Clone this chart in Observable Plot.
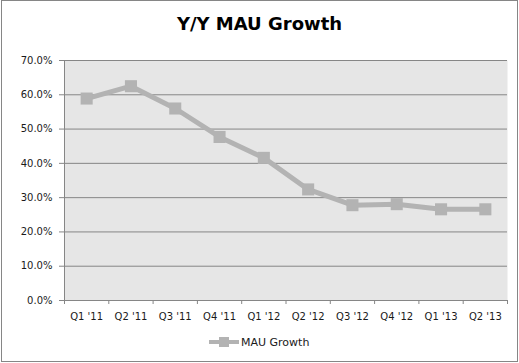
<!DOCTYPE html>
<html>
<head>
<meta charset="utf-8">
<script src="https://cdn.jsdelivr.net/npm/d3@7"></script>
<script src="https://cdn.jsdelivr.net/npm/@observablehq/plot@0.6"></script>
<style>
  html, body { margin: 0; padding: 0; background: #fff; }
  #wrap { position: relative; width: 519px; height: 363px; overflow: hidden; font-family: "DejaVu Sans", sans-serif; }
  #border { position: absolute; left: 1px; top: 0px; width: 515px; height: 360px; border: 1px solid #868686; pointer-events: none; }
  #title { position: absolute; left: 0; width: 519px; top: 13px; text-align: center; font-weight: bold; font-size: 18px; color: #000; line-height: 22px; }
  #legend { position: absolute; left: 209px; top: 334px; height: 16px; display: flex; align-items: center; font-size: 11px; color: #1a1a1a; }
  #chart { position: absolute; left: 0; top: 0; }
</style>
</head>
<body>
<div id="wrap">
  <div id="chart"></div>
  <div id="title">Y/Y MAU Growth</div>
  <div id="legend">
    <svg width="31" height="16"><line x1="0" x2="30" y1="8" y2="8" stroke="#b3b3b3" stroke-width="4"/><rect x="10" y="3" width="10" height="10" fill="#b3b3b3"/></svg>
    <span style="margin-left:1px">MAU Growth</span>
  </div>
  <div id="border"></div>
</div>
<script>
const quarters = ["Q1 '11", "Q2 '11", "Q3 '11", "Q4 '11", "Q1 '12", "Q2 '12", "Q3 '12", "Q4 '12", "Q1 '13", "Q2 '13"];
const growth = [0.589, 0.625, 0.560, 0.477, 0.416, 0.324, 0.278, 0.281, 0.266, 0.266];
const yTicks = [0, 0.1, 0.2, 0.3, 0.4, 0.5, 0.6, 0.7];

const data = quarters.map((q, i) => ({q, i: i + 0.5, v: growth[i]}));
const gridColor = "#868686";

const chart = Plot.plot({
  width: 519,
  height: 363,
  marginTop: 60,
  marginBottom: 63,
  marginLeft: 64,
  marginRight: 12,
  style: {fontFamily: "DejaVu Sans, sans-serif", fontSize: "10px", color: "#1a1a1a", background: "transparent"},
  x: {type: "linear", domain: [0, quarters.length]},
  y: {domain: [0, 0.7]},
  marks: [
    Plot.frame({fill: "#e6e6e6", stroke: null}),
    Plot.ruleY(yTicks.slice(1), {stroke: gridColor, strokeWidth: 1}),
    Plot.ruleX([0], {stroke: gridColor}),
    Plot.ruleY([0], {stroke: gridColor}),
    Plot.axisY({ticks: yTicks, tickFormat: d3.format(".1%"), tickSize: 5, tickPadding: 7, stroke: gridColor, label: null}),
    Plot.axisX({ticks: d3.range(0, quarters.length + 1), tickSize: 4, tickFormat: () => "", stroke: gridColor, label: null}),
    Plot.axisX({ticks: data.map(d => d.i), tickSize: 0, tickPadding: 12, tickFormat: v => quarters[Math.floor(v)], label: null}),
    Plot.line(data, {x: "i", y: "v", stroke: "#b3b3b3", strokeWidth: 5}),
    Plot.dot(data, {x: "i", y: "v", symbol: "square", r: 6.8, fill: "#b3b3b3", stroke: null})
  ]
});
document.getElementById("chart").appendChild(chart);
</script>
</body>
</html>
